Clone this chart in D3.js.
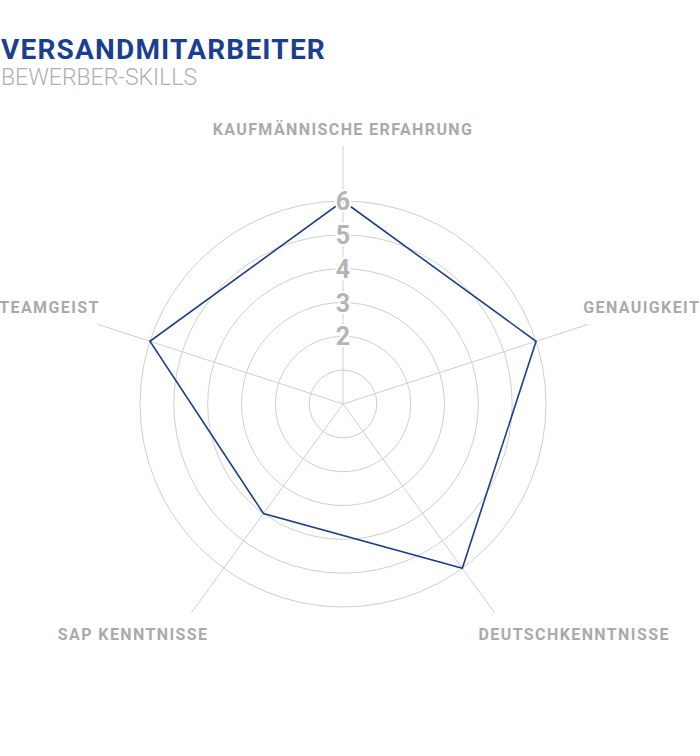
<!DOCTYPE html>
<html>
<head>
<meta charset="utf-8">
<script src="https://cdn.jsdelivr.net/npm/d3@7"></script>
<style>
  body { margin: 0; background: #fff; }
  svg { display: block; font-family: Roboto, "Open Sans", sans-serif; }
</style>
</head>
<body>
<div class="App"></div>
<script>
// chart data
const skills = ['KAUFMÄNNISCHE ERFAHRUNG', 'GENAUIGKEIT', 'DEUTSCHKENNTNISSE', 'SAP KENNTNISSE', 'TEAMGEIST'];
const scores = [6, 6, 6, 4, 6];
const ringLevels = [1, 2, 3, 4, 5, 6];
const tickLabels = ['2', '3', '4', '5', '6'];

let width = 700,
  height = 756,
  cx = 343,
  cy = 404,
  radius = 203;

let svg = d3.select(".App").append("svg")
  .attr("width", width)
  .attr("height", height);

svg.append("text")
  .attr("x", 1)
  .attr("y", 59)
  .attr("fill", "#1b3f8f")
  .attr("font-size", 28)
  .attr("font-weight", 700)
  .attr("letter-spacing", 1.2)
  .text("VERSANDMITARBEITER");

svg.append("text")
  .attr("x", 1)
  .attr("y", 85)
  .attr("fill", "#b0b0b0")
  .attr("font-size", 23)
  .attr("font-weight", 300)
  .text("BEWERBER-SKILLS");

let r = d3.scaleLinear()
  .domain([0, 6])
  .range([0, radius]);

// one spoke per skill, clockwise from the top
let step = 2 * Math.PI / skills.length;
let ang = function(s) { return skills.indexOf(s) * step; };

let axisLen = radius * 1.27;

let g = svg.append("g")
  .attr("transform", "translate(" + cx + "," + cy + ")");

g.selectAll(".ring")
  .data(ringLevels)
  .enter().append("circle")
  .attr("class", "ring")
  .attr("r", function(d) { return r(d); })
  .attr("fill", "none")
  .attr("stroke", "#cfcfcf")
  .attr("stroke-width", 1);

g.selectAll(".spoke")
  .data(skills)
  .enter().append("line")
  .attr("class", "spoke")
  .attr("x1", 0).attr("y1", 0)
  .attr("x2", function(d) { return axisLen * Math.sin(ang(d)); })
  .attr("y2", function(d) { return -axisLen * Math.cos(ang(d)); })
  .attr("stroke", "#cfcfcf")
  .attr("stroke-width", 1);

let line = d3.lineRadial()
  .angle(function(d, i) { return ang(skills[i]); })
  .radius(function(d) { return r(d); })
  .curve(d3.curveLinearClosed);

g.append("path")
  .datum(scores)
  .attr("d", line)
  .attr("fill", "none")
  .attr("stroke", "#1d3f8a")
  .attr("stroke-width", 1.6);

g.selectAll(".tick")
  .data(tickLabels)
  .enter().append("text")
  .attr("class", "tick")
  .attr("x", 0)
  .attr("y", function(d) { return -r(+d); })
  .attr("dy", "0.36em")
  .attr("text-anchor", "middle")
  .attr("font-size", 25)
  .attr("font-weight", 700)
  .attr("fill", "#b4b4b4")
  .attr("stroke", "#fff")
  .attr("stroke-width", 4)
  .attr("paint-order", "stroke")
  .text(function(d) { return d; });

g.selectAll(".axis-label")
  .data(skills)
  .enter().append("text")
  .attr("class", "axis-label")
  .attr("x", function(d) {
    let x = axisLen * Math.sin(ang(d));
    if (Math.abs(x) < 1) return 0;
    let y = -axisLen * Math.cos(ang(d));
    if (y > 0) return x > 0 ? x - 16 : x + 17;
    return x > 0 ? x - 5 : x + 2;
  })
  .attr("y", function(d) {
    let y = -axisLen * Math.cos(ang(d));
    return y > 0 ? y + 27 : y - 11;
  })
  .attr("text-anchor", function(d) {
    let x = axisLen * Math.sin(ang(d));
    if (Math.abs(x) < 1) return "middle";
    return x > 0 ? "start" : "end";
  })
  .attr("font-size", 16)
  .attr("font-weight", 700)
  .attr("letter-spacing", 1.4)
  .attr("fill", "#aaaaaa")
  .text(function(d) { return d; });
</script>
</body>
</html>
